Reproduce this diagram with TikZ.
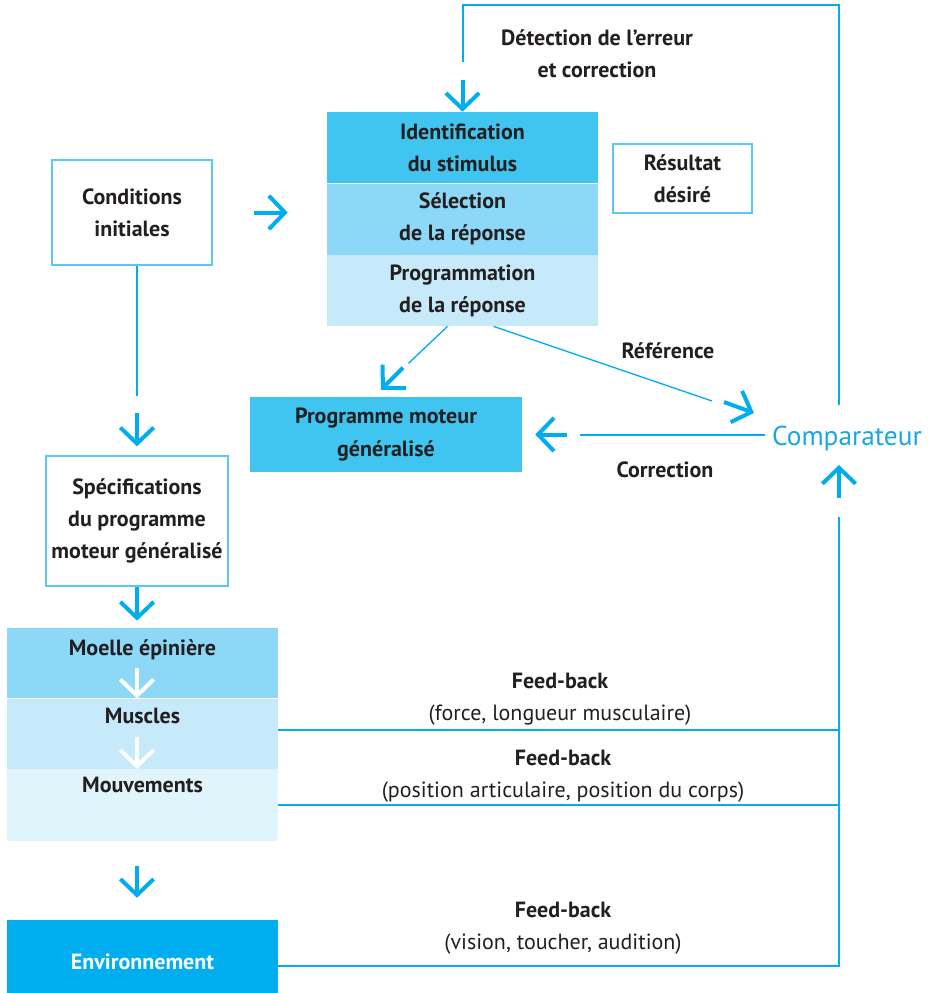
\documentclass[tikz,border=0pt]{standalone}
\usepackage{fontspec}
\setmainfont{PT Sans}
\usetikzlibrary{positioning,calc,arrows.meta}

\definecolor{cyanA}{HTML}{00AEEF}
\definecolor{blueA}{HTML}{40C5F1}
\definecolor{blueB}{HTML}{8DD8F7}
\definecolor{blueC}{HTML}{C6EAFA}
\definecolor{blueD}{HTML}{E0F4FC}
\definecolor{frameC}{HTML}{5BC8F2}
\definecolor{textC}{HTML}{231F20}
\definecolor{compC}{HTML}{1AA6E0}

\tikzset{
  rowbox/.style={minimum width=203.25pt, minimum height=53.25pt, inner sep=0pt, align=center, text=textC, font=\bfseries},
  framebox/.style={draw=frameC, line width=1pt, inner sep=0pt, align=center, text=textC, font=\bfseries},
  lbl/.style={inner sep=0pt, align=center, text=textC, font=\bfseries},
  fbtext/.style={inner sep=0pt, align=center, text=textC},
  link/.style={draw=cyanA, line width=1.5pt},
  thinlink/.style={draw=cyanA, line width=1pt},
  arr/.style={draw=cyanA, line width=3pt, -{Straight Barb[length=12pt,width=25pt,sharp]}},
}

\begin{document}
\fontsize{16.5}{24.2}\selectfont
\begin{tikzpicture}[x=0.75pt,y=-0.75pt]
\useasboundingbox (0,0) rectangle (928,993);

% centre stack
\node[rowbox, fill=blueA] (ident) at (462.5,147.5) {Identification\\du stimulus};
\node[rowbox, fill=blueB, below=0pt of ident] (select) {Sélection\\de la réponse};
\node[rowbox, fill=blueC, below=0pt of select] (prog) {Programmation\\de la réponse};
\node[framebox, minimum width=104.25pt, minimum height=51.75pt] (result) at (682.5,178.5) {Résultat\\désiré};
\node[rowbox, fill=blueA, minimum width=204pt, minimum height=56.25pt] (pmg) at (386,434.5) {Programme moteur\\généralisé};
\node[inner sep=0pt, text=compC, font=\fontsize{20.5}{24}\selectfont] (comp) at (847,438) {Comparateur};

% left column
\node[framebox, minimum width=120pt, minimum height=78.75pt] (cond) at (132,212.5) {Conditions\\initiales};
\node[framebox, minimum width=136.5pt, minimum height=97.5pt] (spec) at (137,521) {Spécifications\\du programme\\moteur généralisé};
\node[rowbox, fill=blueB, minimum height=52.5pt] (moelle) at (142.5,663) {};
\node[rowbox, fill=blueC, minimum height=52.5pt, below=0pt of moelle] (muscles) {};
\node[rowbox, fill=blueD, minimum height=54pt, below=0pt of muscles] (mouv) {};
\node[lbl, anchor=base] (tmoelle) at ($(moelle.north)+(0,28)$) {Moelle épinière};
\node[lbl, anchor=base] (tmuscles) at ($(muscles.north)+(0,25)$) {Muscles};
\node[lbl, anchor=base] (tmouv) at ($(mouv.north)+(0,24)$) {Mouvements};
\node[rowbox, fill=cyanA, minimum height=54.75pt] (env) at (142.5,956.5) {};
\node[lbl, text=white] (tenv) at ($(env)+(0,5)$) {Environnement};

% labels
\node[lbl] (detect) at (597,54) {Détection de l’erreur\\et correction};
\node[lbl] (ref) at (668,351) {Référence};
\node[lbl] (corr) at (665,470) {Correction};
\node[fbtext] (fbtxt1) at (560,699) {\textbf{Feed-back}\\(force, longueur musculaire)};
\node[fbtext] (fbtxt2) at (563,776) {\textbf{Feed-back}\\(position articulaire, position du corps)};
\node[fbtext] (fbtxt3) at (563,928) {\textbf{Feed-back}\\(vision, toucher, audition)};

% loop lines
\coordinate (tl) at (462.5,5);
\coordinate (tr) at (839,5);
\coordinate (ctop) at (839,405);
\coordinate (cbot) at (839,517);
\draw[link] ($(ident.north)+(0,-50)$) -- (tl) -- (tr) -- (ctop);
\draw[link] ($(cond.south)+(5,0)$) -- ++(0,130);
\draw[thinlink] ($(prog.south)+(-15,0)$) -- ++(-39,37);
\draw[thinlink] ($(prog.south)+(31,0)$) -- ($(comp)+(-135,-37)$);
\draw[link] ($(pmg.east)+(58,0)$) -- ($(pmg.east)+(243,0)$);
\coordinate (fb1) at ($(muscles.east)+(0,-4)$);
\coordinate (fb3) at ($(env.east)+(0,9.5)$);
\draw[link] (fb1) -- (fb1 -| cbot);
\draw[link] (mouv.east) -- (mouv.east -| cbot);
\draw[link] (cbot) |- (fb3);

% arrows
\draw[arr] ($(ident.north)+(0,-32)$) -- (ident.north);
\draw[arr] ($(cond.east)+(41,0)$) -- ++(34,0);
\draw[arr] ($(spec.north)+(0,-42)$) -- ($(spec.north)+(0,-9)$);
\draw[arr] (spec.south) -- ($(spec.south)+(0,34)$);
\draw[arr, draw=white] ($(muscles.north)+(-5.5,-30)$) -- ($(muscles.north)+(-5.5,0)$);
\draw[arr, draw=white] ($(mouv.north)+(-5.5,-32)$) -- ($(mouv.north)+(-5.5,0)$);
\draw[arr] ($(env.north)+(-5.5,-54)$) -- ++(0,32);
\draw[arr] ($(pmg.north)+(17,-29)$) -- ($(pmg.north)+(-5,-7)$);
\draw[arr] ($(comp)+(-123,-36)$) -- ($(comp)+(-93,-25)$);
\draw[arr] ($(pmg.east)+(45,0)$) -- ($(pmg.east)+(13,0)$);
\draw[arr] ($(cbot)+(0,-19)$) -- ($(cbot)+(0,-52)$);
\end{tikzpicture}
\end{document}
